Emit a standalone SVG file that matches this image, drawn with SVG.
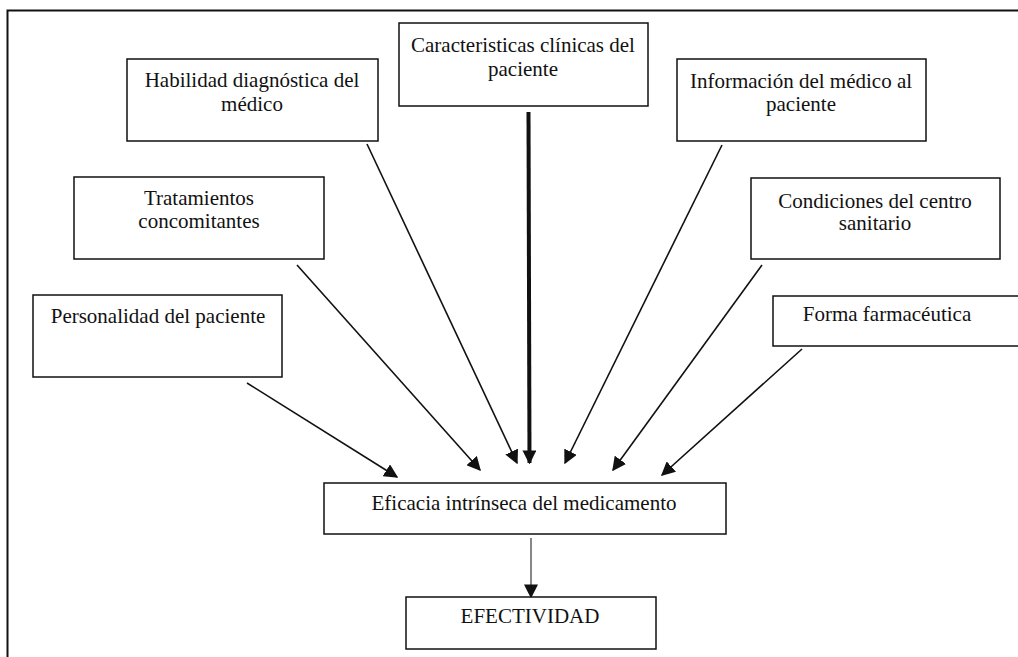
<svg xmlns="http://www.w3.org/2000/svg" width="1018" height="657" viewBox="0 0 1018 657">
<style>
.box{fill:#fff;stroke:#111;stroke-width:1.5}
.t{font-family:'Liberation Serif','DejaVu Serif',serif;font-size:21px;fill:#111;text-anchor:middle}
.c{stroke:#111;stroke-width:1.6;fill:none}
</style>
<defs>
<marker id="ahb" viewBox="0 0 10 10" refX="9" refY="5" markerWidth="14" markerHeight="14" markerUnits="userSpaceOnUse" orient="auto">
<path d="M0,0 L10,5 L0,10 z" fill="#111"/>
</marker>
</defs>
<rect width="1018" height="657" fill="#fff"/>
<g id="frame"><path d="M7.5,657 V10.5 H1018" fill="none" stroke="#111" stroke-width="2"/></g>
<g id="connectors">
<line class="c" x1="247" y1="383" x2="397" y2="477" marker-end="url(#ahb)"/>
<line class="c" x1="297" y1="265" x2="480" y2="470" marker-end="url(#ahb)"/>
<line class="c" x1="367" y1="144" x2="517" y2="463" marker-end="url(#ahb)"/>
<line x1="528.5" y1="112" x2="529.5" y2="463" stroke="#111" stroke-width="4" marker-end="url(#ahb)"/>
<line class="c" x1="722" y1="145" x2="565" y2="463" marker-end="url(#ahb)"/>
<line class="c" x1="762" y1="265" x2="613" y2="470" marker-end="url(#ahb)"/>
<line class="c" x1="802" y1="349" x2="662" y2="475" marker-end="url(#ahb)"/>
<line x1="531" y1="538" x2="531" y2="597" stroke="#111" stroke-width="1" marker-end="url(#ahb)"/>
</g>
<g id="n-caracteristicas"><rect class="box" x="399" y="23" width="249" height="83"/>
<text class="t" font-family="Liberation Serif, serif" x="523" y="52">Caracteristicas clínicas del</text><text class="t" x="523" y="76">paciente</text></g>
<g id="n-habilidad"><rect class="box" x="127" y="59" width="251" height="82"/>
<text class="t" x="252" y="87">Habilidad diagnóstica del</text><text class="t" x="252" y="111">médico</text></g>
<g id="n-informacion"><rect class="box" x="677" y="59" width="249" height="82"/>
<text class="t" x="801" y="88">Información del médico al</text><text class="t" x="801" y="111">paciente</text></g>
<g id="n-tratamientos"><rect class="box" x="74" y="177" width="250" height="82"/>
<text class="t" x="199" y="205">Tratamientos</text><text class="t" x="199" y="228">concomitantes</text></g>
<g id="n-condiciones"><rect class="box" x="751" y="178" width="249" height="81"/>
<text class="t" x="875" y="208">Condiciones del centro</text><text class="t" x="875" y="230">sanitario</text></g>
<g id="n-personalidad"><rect class="box" x="33" y="295" width="249" height="82"/>
<text class="t" x="158" y="323">Personalidad del paciente</text></g>
<g id="n-forma"><rect class="box" x="773" y="296" width="260" height="50"/>
<text class="t" x="887" y="321">Forma farmacéutica</text></g>
<g id="n-eficacia"><rect class="box" x="324" y="483" width="402" height="51"/>
<text class="t" x="524" y="510">Eficacia intrínseca del medicamento</text></g>
<g id="n-efectividad"><rect class="box" x="406" y="597" width="250" height="52"/>
<text class="t" x="530" y="623">EFECTIVIDAD</text></g>
</svg>
